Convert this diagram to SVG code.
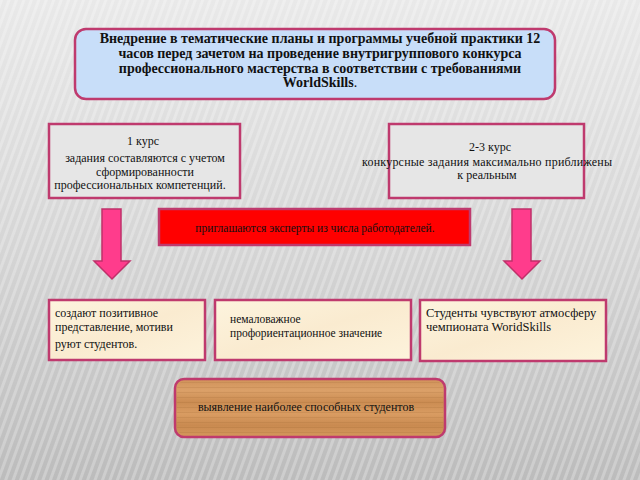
<svg xmlns="http://www.w3.org/2000/svg" width="640" height="480" viewBox="0 0 640 480">
<defs>
<linearGradient id="bg" x1="0" y1="0" x2="0" y2="1">
<stop offset="0" stop-color="#e9e9e9"/>
<stop offset="0.5" stop-color="#d6d6d6"/>
<stop offset="1" stop-color="#bcbcbc"/>
</linearGradient>
<pattern id="stripes" width="7" height="7" patternUnits="userSpaceOnUse" patternTransform="rotate(20)">
<rect width="3" height="7" fill="#ffffff" fill-opacity="0.25"/>
</pattern>
<linearGradient id="wood" x1="0" y1="0" x2="0" y2="1">
<stop offset="0" stop-color="#d0925a"/>
<stop offset="0.2" stop-color="#dba068"/>
<stop offset="0.4" stop-color="#cb8c52"/>
<stop offset="0.6" stop-color="#d99c62"/>
<stop offset="0.8" stop-color="#c98a50"/>
<stop offset="1" stop-color="#d5975c"/>
</linearGradient>
<pattern id="grain" width="60" height="5" patternUnits="userSpaceOnUse">
<rect width="60" height="1" y="2" fill="#8a5426" fill-opacity="0.14"/>
</pattern>
<linearGradient id="cream" x1="0" y1="0" x2="1" y2="1">
<stop offset="0" stop-color="#fdf4de"/>
<stop offset="0.5" stop-color="#faebd0"/>
<stop offset="1" stop-color="#fdf3dc"/>
</linearGradient>
<style>
.bx{stroke:#bf3a6e;stroke-width:2.5}
.arrow{fill:#ff3c8c;stroke:#c0306a;stroke-width:1.5}
text{fill:#111}
.c{text-anchor:middle}
.b{font-weight:bold;font-size:14px}
</style>
</defs>
<rect width="640" height="480" fill="url(#bg)"/>
<rect width="640" height="480" fill="url(#stripes)"/>

<g font-family="'Liberation Serif', 'DejaVu Serif', serif">
<g id="top">
<rect class="bx" x="75" y="29" width="480" height="70" rx="11" fill="#c8def9"/>
<text class="c b" x="320" y="43">Внедрение в тематические планы и программы учебной практики 12</text>
<text class="c b" x="320" y="58">часов перед зачетом на проведение внутригруппового конкурса</text>
<text class="c b" x="320" y="72.5">профессионального мастерства в соответствии с требованиями</text>
<text class="c b" x="320" y="87">WorldSkills<tspan font-weight="normal">.</tspan></text>
</g>

<g id="course1">
<rect class="bx" x="49" y="124" width="191" height="74" fill="#e6e6e6"/>
<text class="c" font-size="12" x="143" y="145">1 курс</text>
<text class="c" font-size="12" x="145" y="162">задания составляются с учетом</text>
<text class="c" font-size="12" x="145" y="176">сформированности</text>
<text class="c" font-size="12" x="140" y="189">профессиональных компетенций.</text>
</g>

<g id="course23">
<rect class="bx" x="389" y="124" width="195" height="74" fill="#e6e6e6"/>
<text class="c" font-size="12" x="490" y="151">2-3 курс</text>
<text class="c" font-size="12" x="487" y="166" textLength="250" lengthAdjust="spacing">конкурсные задания максимально приближены</text>
<text class="c" font-size="12" x="487" y="179">к реальным</text>
</g>

<g id="experts">
<rect class="bx" x="159" y="209" width="311" height="36" fill="#ff0000" stroke-width="1.5"/>
<text class="c" font-size="11.5" x="315" y="232">приглашаются эксперты из числа работодателей.</text>
</g>

<g id="connectors">
<polygon class="arrow" points="102,209 121,209 121,261 130,261 112,279 94,261 102,261"/>
<polygon class="arrow" points="512,209 531,209 531,261 540,261 522,279 504,261 512,261"/>
</g>

<g id="positive">
<rect class="bx" x="49" y="300" width="156" height="60" fill="url(#cream)"/>
<text font-size="12" x="55" y="317">создают позитивное</text>
<text font-size="12" x="55" y="331">представление, мотиви</text>
<text font-size="12" x="55" y="348">руют студентов.</text>
</g>

<g id="career">
<rect class="bx" x="215" y="300" width="196" height="60" fill="url(#cream)"/>
<text font-size="11.5" x="230" y="323">немаловажное</text>
<text font-size="11.5" x="230" y="337">профориентационное значение</text>
</g>

<g id="atmosphere">
<rect class="bx" x="420" y="300" width="186" height="61" fill="url(#cream)"/>
<text font-size="12.5" x="426" y="317">Студенты чувствуют атмосферу</text>
<text font-size="12.5" x="426" y="331">чемпионата WoridSkills</text>
</g>

<g id="best">
<rect class="bx" x="175" y="379" width="270" height="58" rx="9" fill="url(#wood)"/>
<rect x="177" y="381" width="266" height="54" rx="8" fill="url(#grain)"/>
<text class="c" font-size="12" x="306" y="411">выявление наиболее способных студентов</text>
</g>
</g>
</svg>
